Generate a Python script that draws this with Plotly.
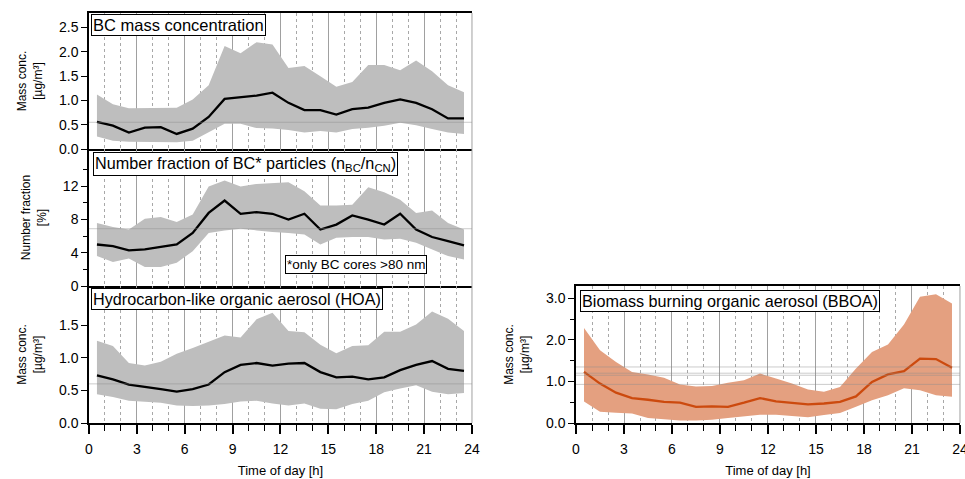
import plotly.graph_objects as go

hours = [0.5, 1.5, 2.5, 3.5, 4.5, 5.5, 6.5, 7.5, 8.5, 9.5, 10.5, 11.5,
         12.5, 13.5, 14.5, 15.5, 16.5, 17.5, 18.5, 19.5, 20.5, 21.5, 22.5, 23.5]

# BC mass concentration [ug/m3]
bc_mean = [0.56, 0.48, 0.34, 0.44, 0.45, 0.31, 0.42, 0.66, 1.03, 1.07, 1.10, 1.16,
           0.95, 0.80, 0.80, 0.71, 0.82, 0.85, 0.95, 1.02, 0.95, 0.82, 0.63, 0.63]
bc_high = [1.12, 0.92, 0.84, 0.84, 0.85, 0.85, 1.02, 1.31, 2.12, 1.97, 2.20, 2.15,
           1.67, 1.71, 1.50, 1.28, 1.38, 1.73, 1.73, 1.62, 1.82, 1.60, 1.31, 1.17]
bc_low = [0.26, 0.17, 0.15, 0.15, 0.14, 0.14, 0.17, 0.35, 0.52, 0.52, 0.43, 0.42,
          0.39, 0.34, 0.37, 0.34, 0.41, 0.44, 0.48, 0.54, 0.49, 0.41, 0.34, 0.31]

# number fraction of BC particles [%]
nf_mean = [5.0, 4.8, 4.3, 4.4, 4.7, 5.0, 6.4, 8.8, 10.3, 8.7, 8.9, 8.7,
           8.0, 8.7, 6.8, 7.4, 8.5, 8.0, 7.4, 8.7, 6.8, 5.9, 5.4, 4.9]
nf_high = [7.6, 7.1, 6.8, 8.1, 8.3, 7.7, 8.6, 12.0, 12.7, 12.0, 12.3, 12.4,
           12.5, 11.4, 9.7, 9.7, 9.8, 11.9, 11.3, 10.4, 8.8, 9.1, 7.6, 6.8]
nf_low = [3.6, 2.9, 3.3, 2.3, 2.3, 2.8, 4.2, 6.4, 6.7, 6.9, 6.7, 6.5,
          6.4, 6.2, 5.0, 5.8, 5.9, 5.9, 5.6, 5.7, 5.2, 4.4, 3.6, 3.2]

# HOA [ug/m3]
hoa_mean = [0.73, 0.67, 0.59, 0.56, 0.52, 0.48, 0.52, 0.59, 0.78, 0.89, 0.92, 0.88,
            0.91, 0.92, 0.78, 0.70, 0.71, 0.67, 0.70, 0.81, 0.89, 0.95, 0.83, 0.80]
hoa_high = [1.26, 1.18, 0.92, 0.88, 0.94, 1.06, 1.15, 1.25, 1.34, 1.31, 1.59, 1.69,
            1.41, 1.39, 1.20, 1.07, 1.18, 1.19, 1.40, 1.40, 1.51, 1.71, 1.60, 1.41]
hoa_low = [0.44, 0.40, 0.34, 0.33, 0.31, 0.27, 0.26, 0.27, 0.29, 0.33, 0.34, 0.30,
           0.27, 0.30, 0.22, 0.21, 0.29, 0.34, 0.47, 0.53, 0.58, 0.48, 0.44, 0.46]

# BBOA [ug/m3]
bboa_mean = [1.23, 0.95, 0.73, 0.60, 0.56, 0.51, 0.49, 0.39, 0.40, 0.39, 0.49, 0.60,
             0.52, 0.48, 0.45, 0.47, 0.51, 0.64, 0.99, 1.17, 1.25, 1.55, 1.54, 1.33]
bboa_high = [2.29, 1.75, 1.47, 1.23, 1.17, 1.09, 0.93, 0.88, 0.89, 0.97, 1.03, 1.19,
             1.07, 0.95, 0.81, 0.75, 0.87, 1.31, 1.71, 1.89, 2.37, 3.04, 3.10, 2.88]
bboa_low = [0.52, 0.27, 0.25, 0.23, 0.12, 0.09, 0.06, 0.06, 0.08, 0.12, 0.16, 0.20,
            0.20, 0.17, 0.14, 0.19, 0.24, 0.39, 0.55, 0.67, 0.84, 0.79, 0.67, 0.63]

# tick values per panel
bc_ticks = [0, 0.5, 1.0, 1.5, 2.0, 2.5]
nf_ticks = [0, 4, 8, 12]
nf_minor = [2, 6, 10, 14]
hoa_ticks = [0, 0.5, 1.0, 1.5]
bboa_ticks = [0, 1.0, 2.0, 3.0]
bboa_minor = [0.5, 1.5, 2.5]

# faint reference lines seen in the panels
ref_lines = {"y": [0.55], "y2": [6.9], "y3": [0.6], "y4": [1.35, 1.2, 1.15, 0.93]}

GRAY_FILL = "#bebebe"
ORANGE_FILL = "#e4a080"
ORANGE_LINE = "#cc4a0e"
FONT = "Arial, Liberation Sans, sans-serif"

fig = go.Figure()

panels = [
    ("x", "y", bc_mean, bc_high, bc_low, GRAY_FILL, "black"),
    ("x2", "y2", nf_mean, nf_high, nf_low, GRAY_FILL, "black"),
    ("x3", "y3", hoa_mean, hoa_high, hoa_low, GRAY_FILL, "black"),
    ("x4", "y4", bboa_mean, bboa_high, bboa_low, ORANGE_FILL, ORANGE_LINE),
]

for xa, ya, mean, high, low, fill, line in panels:
    fig.add_trace(go.Scatter(x=hours, y=low, xaxis=xa, yaxis=ya, mode="lines",
                             line=dict(width=0, color=fill), showlegend=False,
                             hoverinfo="skip"))
    fig.add_trace(go.Scatter(x=hours, y=high, xaxis=xa, yaxis=ya, mode="lines",
                             line=dict(width=0, color=fill), fill="tonexty",
                             fillcolor=fill, showlegend=False, hoverinfo="skip"))
    fig.add_trace(go.Scatter(x=hours, y=mean, xaxis=xa, yaxis=ya, mode="lines",
                             line=dict(width=2.3, color=line), showlegend=False))

left = [0.0922, 0.4891]
right = [0.5969, 0.9948]
doms = {
    "1": (left, [0.6889, 0.9729]),
    "2": (left, [0.4029, 0.6889]),
    "3": (left, [0.1169, 0.4029]),
    "4": (right, [0.1169, 0.4029]),
}


def xaxis(dom, anchor, bottom, mirror):
    ax = dict(domain=dom, anchor=anchor, range=[0, 24], tick0=0, dtick=3,
              automargin=False, ticklabeloverflow="allow",
              showgrid=True, gridcolor="#a0a0a0", gridwidth=1,
              zeroline=False, showline=True, linecolor="black", linewidth=2,
              mirror=mirror,
              minor=dict(dtick=1, showgrid=True, gridcolor="#a8a8a8",
                         griddash="dot", gridwidth=1),
              tickfont=dict(size=14, family=FONT, color="black"))
    if bottom:
        ax.update(ticks="outside", ticklen=9, tickwidth=1.5, tickcolor="black",
                  showticklabels=True, ticklabelstandoff=3,
                  title=dict(text="Time of day [h]", font=dict(size=13, family=FONT),
                             standoff=10))
        ax["minor"].update(ticks="outside", ticklen=6, tickwidth=1.2, tickcolor="black")
    else:
        ax.update(ticks="", showticklabels=False)
    return ax


def yaxis(dom, anchor, rng, ticks, fmt, title, minor=None):
    ax = dict(domain=dom, anchor=anchor, range=rng, tickmode="array", tickvals=ticks,
              tickformat=fmt, showgrid=False, zeroline=False, automargin=False,
              showline=True, linecolor="black", linewidth=1.5,
              ticks="outside", ticklen=6, tickwidth=1.2, tickcolor="black",
              tickfont=dict(size=14, family=FONT, color="black"),
              title=dict(text=title, font=dict(size=12, family=FONT), standoff=14))
    if minor:
        ax["minor"] = dict(tickmode="array", tickvals=minor, ticks="outside",
                           ticklen=4, tickwidth=1.2, tickcolor="black")
    return ax


fig.update_layout(
    width=965, height=479,
    margin=dict(l=0, r=0, t=0, b=0, autoexpand=False),
    plot_bgcolor="white", paper_bgcolor="white",
    font=dict(family=FONT, color="black"),
    xaxis=xaxis(doms["1"][0], "y", False, True),
    xaxis2=xaxis(doms["2"][0], "y2", False, False),
    xaxis3=xaxis(doms["3"][0], "y3", True, False),
    xaxis4=xaxis(doms["4"][0], "y4", True, True),
    yaxis=yaxis(doms["1"][1], "x", [0, 2.8], bc_ticks, ".1f", "Mass conc.<br>[µg/m³]"),
    yaxis2=yaxis(doms["2"][1], "x2", [0, 16.5], nf_ticks, "d", "Number fraction<br>[%]",
                 minor=nf_minor),
    yaxis3=yaxis(doms["3"][1], "x3", [0, 2.1], hoa_ticks, ".1f", "Mass conc.<br>[µg/m³]"),
    yaxis4=yaxis(doms["4"][1], "x4", [0, 3.3], bboa_ticks, ".1f", "Mass conc.<br>[µg/m³]",
                 minor=bboa_minor),
)

# thin gray right border on every panel
for xa in ["x", "x2", "x3", "x4"]:
    ya = "y" if xa == "x" else "y" + xa[1:]
    fig.add_shape(type="line", xref=xa + " domain", yref=ya + " domain",
                  x0=1, x1=1, y0=0, y1=1, line=dict(color="#a0a0a0", width=1))

# faint horizontal reference lines
for ya, vals in ref_lines.items():
    xa = "x" if ya == "y" else "x" + ya[1:]
    for v in vals:
        fig.add_shape(type="line", xref=xa + " domain", yref=ya, x0=0, x1=1,
                      y0=v, y1=v, line=dict(color="rgba(140,140,140,0.45)", width=1),
                      layer="above")

# panel labels
labels = [
    ("x", "y", 0.005, 0.993, "BC mass concentration", 16.5),
    ("x2", "y2", 0.01, 0.978, "Number fraction of BC* particles (n<sub>BC</sub>/n<sub>CN</sub>)", 16.2),
    ("x2", "y2", 0.512, 0.226, "*only BC cores >80 nm", 13.5),
    ("x3", "y3", 0.005, 0.985, "Hydrocarbon-like organic aerosol (HOA)", 16.2),
    ("x4", "y4", 0.01, 0.971, "Biomass burning organic aerosol (BBOA)", 16.2),
]
for xa, ya, x, y, text, size in labels:
    fig.add_annotation(xref=xa + " domain", yref=ya + " domain", x=x, y=y,
                       xanchor="left", yanchor="top", text=text, showarrow=False,
                       font=dict(size=size, family=FONT, color="black"),
                       bgcolor="white", bordercolor="black", borderwidth=1,
                       borderpad=1)

# page body has a default margin; drop it so the figure sits at the window corner
fig.write_html("out.html", config={"displayModeBar": False},
               post_script="document.body.style.margin='0';document.body.style.overflow='hidden';")
